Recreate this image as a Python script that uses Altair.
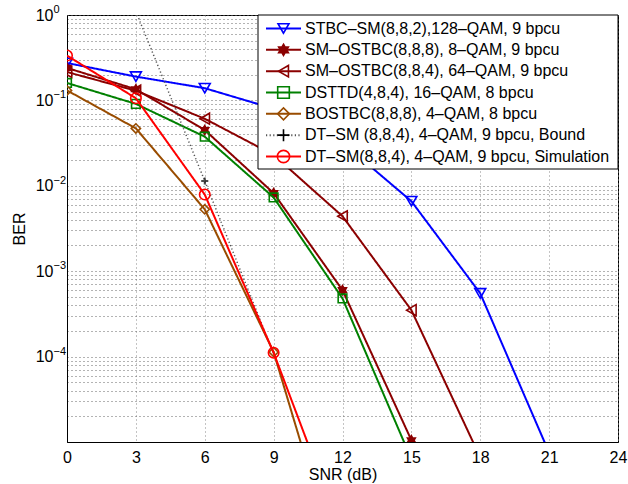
import altair as alt
import pandas as pd

# ---- data ----
snr_blue = [0, 3, 6, 9, 12, 15, 18, 21]
ber_blue = [0.274, 0.19, 0.139, 0.080, 0.032, 0.0066, 5.5e-4, 7.5e-6]
snr_s888 = [0, 3, 6, 9, 12, 15]
ber_s888 = [0.24, 0.135, 0.045, 0.0082, 6.0e-4, 1.05e-5]
snr_s884 = [0, 3, 6, 9, 12, 15, 18]
ber_s884 = [0.215, 0.13, 0.061, 0.023, 4.4e-3, 3.5e-4, 6.6e-6]
snr_dsttd = [0, 3, 6, 9, 12, 15]
ber_dsttd = [0.16, 0.091, 0.0376, 7.3e-3, 4.8e-4, 6.3e-6]
snr_bostbc = [0, 3, 6, 9, 12]
ber_bostbc = [0.131, 0.047, 5.3e-3, 1.13e-4, 2.3e-7]
snr_bound = [3, 6, 9]
ber_bound = [1.1, 0.0114, 1.08e-4]
snr_sim = [0, 3, 6, 9, 12]
ber_sim = [0.335, 0.106, 7.9e-3, 1.11e-4, 8.1e-7]

labels = [
    "STBC–SM(8,8,2),128–QAM, 9 bpcu",
    "SM–OSTBC(8,8,8), 8–QAM, 9 bpcu",
    "SM–OSTBC(8,8,4), 64–QAM, 9 bpcu",
    "DSTTD(4,8,4), 16–QAM, 8 bpcu",
    "BOSTBC(8,8,8), 4–QAM, 8 bpcu",
    "DT–SM (8,8,4), 4–QAM, 9 bpcu, Bound",
    "DT–SM(8,8,4), 4–QAM, 9 bpcu, Simulation",
]
series_x = [snr_blue, snr_s888, snr_s884, snr_dsttd, snr_bostbc, snr_bound, snr_sim]
series_y = [ber_blue, ber_s888, ber_s884, ber_dsttd, ber_bostbc, ber_bound, ber_sim]

x_ticks = [0, 3, 6, 9, 12, 15, 18, 21, 24]
y_major = [1, 0.1, 0.01, 0.001, 0.0001]
y_exponents = ["0", "−1", "−2", "−3", "−4"]

# ---- styles ----
HEX = ("M0,-1L0.289,-0.5L0.866,-0.5L0.577,0L0.866,0.5L0.289,0.5L0,1"
       "L-0.289,0.5L-0.866,0.5L-0.577,0L-0.866,-0.5L-0.289,-0.5Z")
PLUS = "M-1,0L1,0M0,-1L0,1"
colors = ["#0000FF", "#8B0000", "#8B0000", "#008000", "#994C00", "#000000", "#FF0000"]
line_colors = ["#0000FF", "#8B0000", "#8B0000", "#008000", "#994C00", "#555555", "#FF0000"]
shapes = ["triangle-down", HEX, "triangle-left", "square", "diamond", PLUS, "circle"]
sizes = [120, 150, 120, 75, 85, 50, 110]
filled = [False, True, False, False, False, False, False]
dashes = [[1, 0]] * 5 + [[1.2, 2.4]] + [[1, 0]]
line_w = [2, 2, 2, 2, 2, 1.5, 2]

FONT = "Liberation Sans, Arial, Helvetica, sans-serif"
W, H = 551, 427

y_grid = [1.0]
for k in range(0, 5):
    for m in range(1, 10):
        y_grid.append(m * 10 ** (-(k + 1)))
expr = ""
for v in y_major:
    expr += f"abs(datum.value - {v}) < {v}*1e-6 ? '10' : "
expr += "''"

x_enc = alt.X("snr:Q", scale=alt.Scale(domain=[0, 24], nice=False),
              axis=alt.Axis(values=x_ticks, title="SNR (dB)", grid=True,
                            gridDash=[1, 3], gridColor="#888", gridWidth=1,
                            ticks=False, tickSize=0, labelPadding=7,
                            titlePadding=1, labelFontSize=16, titleFontSize=16,
                            titleFontWeight="normal", labelFont=FONT, titleFont=FONT,
                            labelColor="black", titleColor="black",
                            domainColor="black", labelFlush=False))
y_enc = alt.Y("ber:Q", scale=alt.Scale(type="log", domain=[1e-5, 1], nice=False),
              axis=alt.Axis(values=y_grid, labelExpr=expr, title="BER", grid=True,
                            gridDash=[1, 3], gridColor="#666", gridWidth=1,
                            ticks=False, tickSize=0, labelPadding=14,
                            titlePadding=8, labelFontSize=16, titleFontSize=16,
                            titleFontWeight="normal", labelFont=FONT, titleFont=FONT,
                            labelColor="black", titleColor="black", labelBaseline="middle",
                            domainColor="black", labelFlush=False, labelOverlap=False))

layers = []
for i in range(len(labels)):
    df = pd.DataFrame({"snr": series_x[i], "ber": series_y[i]})
    base = alt.Chart(df).encode(x=x_enc, y=y_enc)
    layers.append(base.mark_line(color=line_colors[i], strokeWidth=line_w[i],
                                 strokeDash=dashes[i], clip=True))
    if i == 5:
        pts = alt.Chart(df[df.snr == 6]).encode(x=x_enc, y=y_enc).mark_point(
            shape=PLUS, size=sizes[i], color="black", strokeWidth=2, clip=True)
    else:
        pts = base.mark_point(shape=shapes[i], size=sizes[i], filled=filled[i],
                              color=colors[i], strokeWidth=1.6, opacity=1, clip=True)
    layers.append(pts)

# exponents of the y tick labels
exp_df = pd.DataFrame({"ber": y_major, "e": y_exponents})
exps = alt.Chart(exp_df).mark_text(align="left", baseline="middle", fontSize=11,
                                   font=FONT, color="black", dy=-5).encode(
    x=alt.value(-13.5), y=alt.Y("ber:Q"), text="e:N")
layers.append(exps)
main = alt.layer(*layers)

# ---- legend ----
leg_df = pd.DataFrame({"label": labels})
yl = alt.Y("label:N", scale=alt.Scale(type="point", domain=labels, range=[13.5, 141.5], padding=0), axis=None)
col_s = alt.Scale(domain=labels, range=line_colors)
box = alt.Chart(pd.DataFrame({"a": [0]})).mark_rect(
    fill="white", stroke="black", strokeWidth=1).encode(
    x=alt.value(191), x2=alt.value(551), y=alt.value(0), y2=alt.value(154))
leg_lines = alt.Chart(leg_df).mark_rule(strokeWidth=2).encode(
    x=alt.value(199), x2=alt.value(234), y=yl,
    color=alt.Color("label:N", scale=col_s, legend=None),
    strokeDash=alt.StrokeDash("label:N", scale=alt.Scale(domain=labels, range=dashes), legend=None),
)
leg_pts = alt.Chart(leg_df).mark_point(strokeWidth=1.6, opacity=1).encode(
    x=alt.value(216.5), y=yl,
    shape=alt.Shape("label:N", scale=alt.Scale(domain=labels, range=shapes), legend=None),
    stroke=alt.Stroke("label:N", scale=alt.Scale(domain=labels, range=colors), legend=None),
    fill=alt.Fill("label:N", scale=alt.Scale(domain=labels, range=[
        colors[i] if filled[i] else "transparent" for i in range(len(labels))]), legend=None),
    size=alt.Size("label:N", scale=alt.Scale(domain=labels, range=sizes), legend=None),
)
leg_text = alt.Chart(leg_df).mark_text(align="left", baseline="middle", fontSize=16,
                                       font=FONT, color="black").encode(
    x=alt.value(238), y=yl, text="label:N")
legend = alt.layer(box, leg_lines, leg_pts, leg_text)

chart = alt.layer(main, legend).resolve_scale(
    y="independent", color="independent", shape="independent",
    strokeDash="independent", fill="independent", size="independent", stroke="independent"
).properties(
    width=W, height=H,
    autosize=alt.AutoSizeParams(type="none"),
    padding={"left": 67, "top": 15, "right": 10, "bottom": 42},
    background="white",
).configure_view(stroke="black", strokeWidth=1)

chart.save("out.html", embed_options={"renderer": "svg", "actions": False})
